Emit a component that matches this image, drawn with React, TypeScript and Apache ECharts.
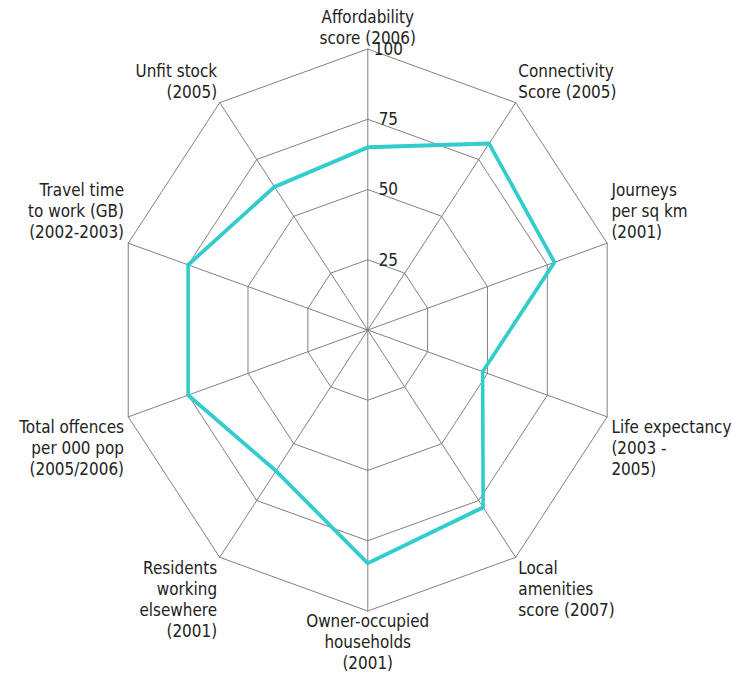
import React, { useEffect, useRef } from 'react';
import * as echarts from 'echarts';

// Indicators listed counter-clockwise from the top (ECharts radar order)
const indicatorNames = [
  'Affordability\nscore (2006)',
  'Unfit stock\n(2005)',
  'Travel time\nto work (GB)\n(2002-2003)',
  'Total offences\nper 000 pop\n(2005/2006)',
  'Residents\nworking\nelsewhere\n(2001)',
  'Owner-occupied\nhouseholds\n(2001)',
  'Local\namenities\nscore (2007)',
  'Life expectancy\n(2003 -\n2005)',
  'Journeys\nper sq km\n(2001)',
  'Connectivity\nScore (2005)',
];
const seriesValues = [65, 63, 75, 75, 62, 83, 78, 48, 78, 82];
const ringValues = [25, 50, 75, 100];
const axisMax = 100;

const SCALE_X = 0.896;
const VIEW_W = 732;
const VIEW_H = 679;
const CANVAS_W = Math.round(VIEW_W / SCALE_X);
const CX = 410.4;
const CY = 330;
const R = 281;
const FONT = 'DejaVu Sans';
const TEXT_COLOR = '#222';
const GRID_COLOR = '#7a7a7a';

export default function App() {
  const ref = useRef<HTMLDivElement>(null);
  useEffect(() => {
    if (!ref.current) return;
    const chart = echarts.init(ref.current, undefined, { renderer: 'svg' });
    const n = indicatorNames.length;
    const nameTexts = indicatorNames.map((name, i) => {
      const ang = Math.PI / 2 + (i * 2 * Math.PI) / n;
      const c = Math.cos(ang);
      const s = Math.sin(ang);
      const ac = Math.abs(c) < 1e-6 ? 0 : c;
      const as = Math.abs(s) < 1e-6 ? 0 : s;
      return {
        type: 'text',
        x: CX + (R + 5) * ac,
        y: CY - R * as,
        z: 10,
        style: {
          text: name,
          fontFamily: FONT,
          fontSize: 17,
          lineHeight: 21,
          fill: TEXT_COLOR,
          align: ac > 0 ? 'left' : ac < 0 ? 'right' : 'center',
          verticalAlign: as > 0 ? 'bottom' : 'top',
        },
      };
    });
    const ringTexts = ringValues.map((v) => ({
      type: 'text',
      x: CX + 23,
      y: CY - (R * v) / axisMax,
      z: 9,
      style: {
        text: String(v),
        fontFamily: FONT,
        fontSize: 17,
        fill: TEXT_COLOR,
        align: 'center',
        verticalAlign: 'middle',
      },
    }));
    chart.setOption({
      animation: false,
      backgroundColor: '#fff',
      radar: {
        center: [CX, CY],
        radius: R,
        startAngle: 90,
        splitNumber: 4,
        shape: 'polygon',
        indicator: indicatorNames.map((name) => ({ name, min: 0, max: axisMax })),
        axisName: { show: false },
        axisLine: { lineStyle: { color: GRID_COLOR, width: 1 } },
        splitLine: { lineStyle: { color: GRID_COLOR, width: 1 } },
        splitArea: { show: false },
        axisTick: { show: false },
        axisLabel: { show: false },
      },
      series: [
        {
          type: 'radar',
          symbol: 'none',
          lineStyle: { color: '#33cccc', width: 4 },
          itemStyle: { color: '#33cccc' },
          data: [{ value: seriesValues, name: 'Area' }],
        },
      ],
      graphic: [...nameTexts, ...ringTexts],
    });
    return () => chart.dispose();
  }, []);
  return (
    <div
      style={{
        position: 'absolute',
        left: 0,
        top: 0,
        width: VIEW_W,
        height: VIEW_H,
        overflow: 'hidden',
        background: '#fff',
      }}
    >
      <div
        ref={ref}
        style={{
          width: CANVAS_W,
          height: VIEW_H,
          transform: `scaleX(${SCALE_X})`,
          transformOrigin: '0 0',
        }}
      />
    </div>
  );
}
